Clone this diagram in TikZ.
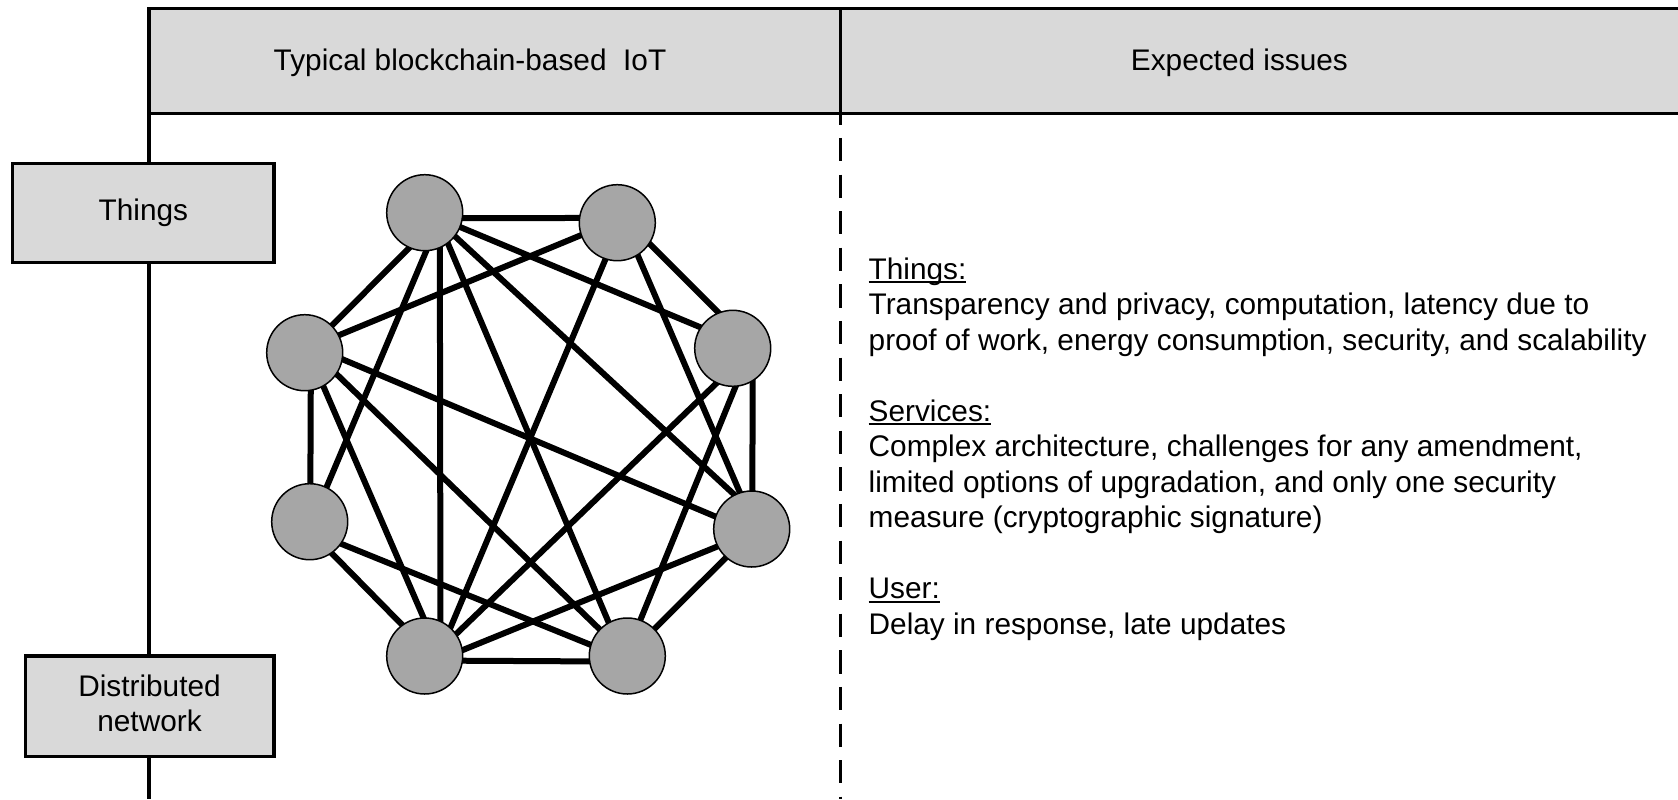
\documentclass[tikz,border=0pt]{standalone}
\usepackage{fontspec}
\setmainfont{Liberation Sans}
\usetikzlibrary{backgrounds}
\definecolor{headgray}{HTML}{D9D9D9}
\definecolor{nodegray}{HTML}{A6A6A6}
% underline drawn close to the baseline, through the descenders
\newcommand\ulword[1]{\setbox0\hbox{#1}\rlap{\rule[-2pt]{\wd0}{1pt}}\box0}

\begin{document}
\begin{tikzpicture}[x=0.5pt,y=-0.5pt,
  every node/.style={font=\fontsize{14.9pt}{17.75pt}\selectfont, inner sep=0pt},
  peer/.style={circle, draw=black, line width=0.75pt, fill=nodegray, minimum size=38pt, inner sep=0pt},
  link/.style={line width=3pt, shorten <=-3pt, shorten >=-3pt},
  sidebox/.style={draw=black, line width=1.55pt, fill=headgray, inner sep=0pt},
]
\useasboundingbox (0,0) rectangle (1678,799);

% header band with its two column titles
\fill[headgray] (149,8.5) rectangle (1678,113.5);
\draw[line width=1.55pt] (1678,8.5) -- (149,8.5) -- (149,799);
\draw[line width=1.8pt] (149,113.5) -- (1678,113.5);
\draw[line width=1.5pt] (840,8) -- (840,114);
\draw[line width=1.5pt, dash pattern=on 11.65pt off 6.65pt, dash phase=6.35pt] (840,114) -- (840,799);

\node[anchor=base] (colA) at (470,70.7) {Typical blockchain-based\ \ IoT};
\node[anchor=base] (colB) at (1239.4,70.7) {Expected issues};

% row labels on the left rail
\node[sidebox, minimum width=130.65pt, minimum height=49.5pt] (things) at (143.35,212.8) {Things};
\node[sidebox, minimum width=124.15pt, minimum height=50.35pt] (distbox) at (149.85,706.35) {};
\node[anchor=base, align=center] (distlabel) at (149.5,731.7) {Distributed\\network};

% peers of the distributed network
\node[peer] (n1) at (424.7,212.7) {};
\node[peer] (n2) at (617.3,222.7) {};
\node[peer] (n3) at (304.7,352.7) {};
\node[peer] (n4) at (732.7,348.3) {};
\node[peer] (n5) at (309.7,521.7) {};
\node[peer] (n6) at (751.7,529) {};
\node[peer] (n7) at (424.7,656) {};
\node[peer] (n8) at (627.3,656) {};

\begin{scope}[on background layer]
\draw[link] (n1.-8.5) -- (n2.173.5);
\draw[link] (n1.-114.6) -- (n3.45.7);
\draw[link] (n1.-22) -- (n4.147);
\draw[link] (n1.-88.5) -- (n5.64.1);
\draw[link] (n1.-38.7) -- (n6.117.2);
\draw[link] (n1.-67.7) -- (n7.66.9);
\draw[link] (n1.-53.3) -- (n8.119.7);
\draw[link] (n2.-161.7) -- (n3.27);
\draw[link] (n2.-33.7) -- (n4.112.3);
\draw[link] (n2.-58.3) -- (n6.108.1);
\draw[link] (n2.-108.3) -- (n7.48.9);
\draw[link] (n3.-81.9) -- (n5.89.5);
\draw[link] (n3.-10.9) -- (n6.161.4);
\draw[link] (n3.-61.2) -- (n7.92.1);
\draw[link] (n3.-34.9) -- (n8.136.4);
\draw[link] (n4.-59.5) -- (n6.89);
\draw[link] (n4.-115.7) -- (n7.35.3);
\draw[link] (n4.-86.5) -- (n8.70.6);
\draw[link] (n5.-55.2) -- (n7.126.6);
\draw[link] (n5.-35.5) -- (n8.163.6);
\draw[link] (n6.-153.2) -- (n7.9.2);
\draw[link] (n6.-132.1) -- (n8.45);
\draw[link] (n7.-7.2) -- (n8.-172.9);
\end{scope}

% issues column (anchored at the baseline of its last line)
\node[anchor=base west, align=left] (issues) at (868.3,634.3) {\ulword{Things:}\\
Transparency and privacy, computation, latency due to\\
proof of work, energy consumption, security, and scalability\\[17.75pt]
\ulword{Services:}\\
Complex architecture, challenges for any amendment,\\
limited options of upgradation, and only one security\\
measure (cryptographic signature)\\[17.75pt]
\ulword{User:}\\
Delay in response, late updates};
\end{tikzpicture}
\end{document}
